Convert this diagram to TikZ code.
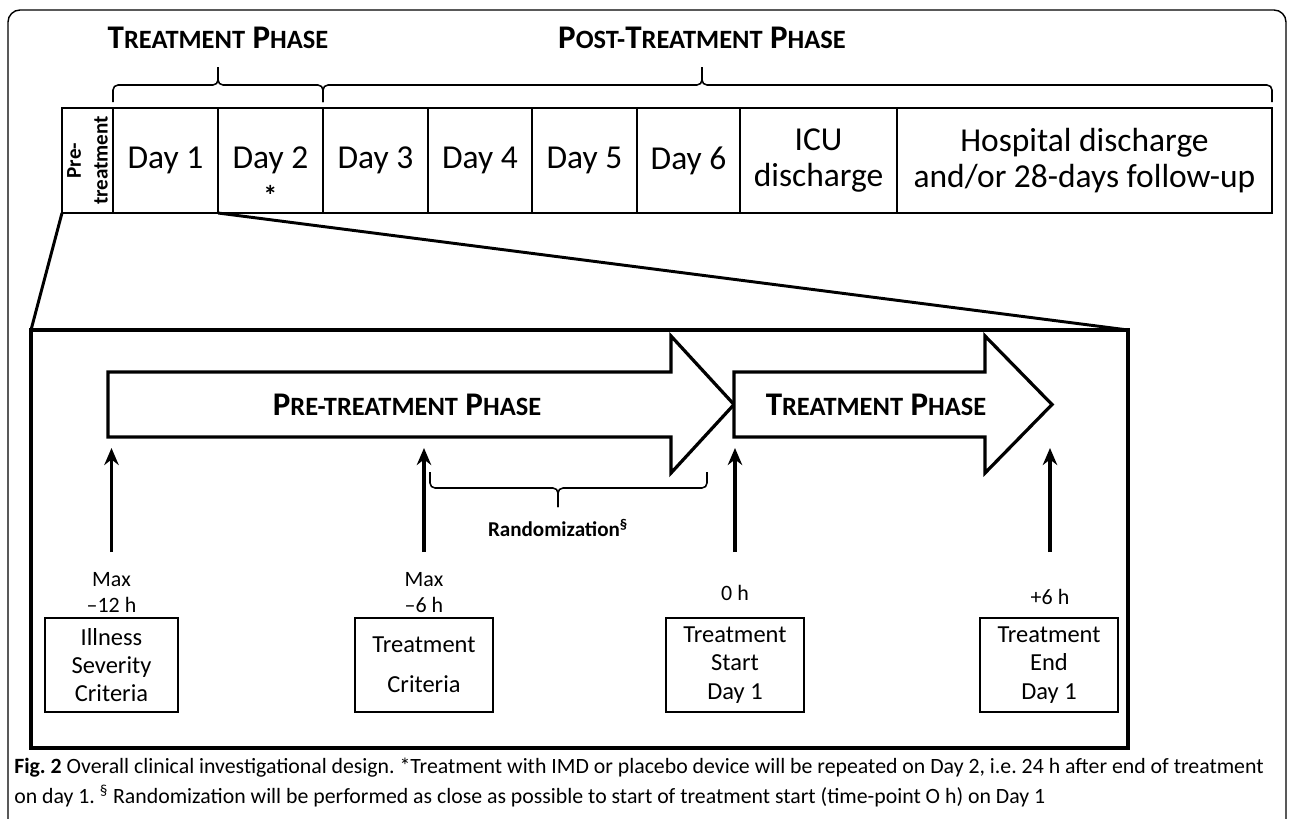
\documentclass[tikz,border=0pt]{standalone}
\usepackage{fontspec}
\setmainfont{Carlito}
\newfontfamily\capfont{Carlito}
\usetikzlibrary{positioning,arrows.meta}
\newlength{\pxl}
\setlength{\pxl}{0.025cm}
\newcommand{\phasecaps}[2]{#1{\fontsize{18.8}{20}\selectfont #2}}

\begin{document}
\begin{tikzpicture}[x=\pxl, y=\pxl, >={Stealth[length=4.25mm, width=3.6mm]},
    cell/.style={draw, line width=2.1pt, minimum height=105\pxl, outer sep=0pt,
      inner sep=0pt, align=center, font=\fontsize{23.8}{25.6}\selectfont},
    heading/.style={font=\bfseries\fontsize{23.5}{26}\selectfont},
    phase/.style={draw, line width=2.3pt, fill=white, line join=miter},
    timebox/.style={draw, line width=1.1pt, minimum height=94\pxl, inner sep=0pt,
      align=center, font=\fontsize{17.4}{20}\selectfont},
    timelabel/.style={align=center, font=\fontsize{15.6}{18.5}\selectfont},
    bracket/.style={line width=1.1pt, rounded corners=5\pxl},
    timearrow/.style={->, line width=2.6pt},
    caption/.style={anchor=base west, inner sep=0pt, font=\capfont\frenchspacing\fontsize{15.5}{18}\selectfont}]

  \useasboundingbox (0,0) rectangle (1290,-818);
  \draw[line width=1pt, rounded corners=12\pxl] (8,-840) -- (8,-10) -- (1286,-10) -- (1286,-840);

  % days of the study
  \node[cell, minimum width=51\pxl] (pre) at (87.5,-160.5) {};
  \node[rotate=90, align=center, font=\bfseries\fontsize{15}{19}\selectfont] at (pre) {Pre-\\treatment};
  \node[cell, minimum width=105\pxl, right=0pt of pre] (day1) {Day 1};
  \node[cell, minimum width=105\pxl, right=0pt of day1] (day2) {Day 2};
  \node[cell, minimum width=105\pxl, right=0pt of day2] (day3) {Day 3};
  \node[cell, minimum width=104\pxl, right=0pt of day3] (day4) {Day 4};
  \node[cell, minimum width=105\pxl, right=0pt of day4] (day5) {Day 5};
  \node[cell, minimum width=103\pxl, right=0pt of day5] (day6) {Day 6};
  \node[cell, minimum width=157\pxl, right=0pt of day6] (icu) {ICU\\discharge};
  \node[cell, minimum width=375\pxl, right=0pt of icu] (hosp) {Hospital discharge\\and/or 28-days follow-up};
  \node[font=\bfseries\fontsize{20}{20}\selectfont] (star) at ([yshift=18\pxl]day2.south) {*};

  % phases above the days
  \draw[bracket] (113,-102) |- (218,-85) -- (218,-67);
  \draw[bracket] (323,-102) |- (218,-85) -- (218,-67);
  \draw[bracket] (323,-102) |- (702,-85) -- (702,-67);
  \draw[bracket] (1272,-102) |- (702,-85) -- (702,-67);
  \node[heading] (treat) at (218,-38) {\phasecaps{T}{REATMENT} \phasecaps{P}{HASE}};
  \node[heading] (post) at (702,-38) {\phasecaps{P}{OST-}\phasecaps{T}{REATMENT} \phasecaps{P}{HASE}};

  % zoom on day 1
  \node[draw, line width=2.8pt, minimum width=1097\pxl, minimum height=418\pxl, outer sep=0pt] (zoom) at (579.5,-539) {};
  \draw[line width=2.1pt] (pre.south west) -- (zoom.north west);
  \draw[line width=2.1pt] (day1.south east) -- (zoom.north east);

  \draw[phase] (108,-372) -- (671,-372) -- (671,-336) -- (734,-404.5) -- (671,-473) -- (671,-437) -- (108,-437) -- cycle;
  \node[heading] (prephase) at (407,-404.5) {\phasecaps{P}{RE-TREATMENT} \phasecaps{P}{HASE}};
  \draw[phase] (734,-372) -- (985,-372) -- (985,-336) -- (1052,-404.5) -- (985,-473) -- (985,-437) -- (734,-437) -- cycle;
  \node[heading] (treatphase) at (876,-404.5) {\phasecaps{T}{REATMENT} \phasecaps{P}{HASE}};

  % time points
  \node[timebox, minimum width=133\pxl] (illness) at (111.5,-665) {Illness\\Severity\\Criteria};
  \node[timebox, minimum width=138\pxl] (crit) at (424,-665) {Treatment\\[12\pxl]Criteria};
  \node[timebox, minimum width=138\pxl] (start) at (735,-665) {Treatment\\Start\\Day 1};
  \node[timebox, minimum width=138\pxl] (end) at (1049,-665) {Treatment\\End\\Day 1};

  \node[timelabel, above=0pt of illness] (t12) {Max\\--12 h};
  \node[timelabel, above=0pt of crit] (t6) {Max\\--6 h};
  \node[timelabel] (t0) at (735,-593) {0 h};
  \node[timelabel] (tp6) at (1050,-597) {+6 h};

  \draw[timearrow] (t12 |- 0,-552) -- (t12 |- 0,-448);
  \draw[timearrow] (t6 |- 0,-552) -- (t6 |- 0,-448);
  \draw[timearrow] (t0 |- 0,-552) -- (t0 |- 0,-448);
  \draw[timearrow] (tp6 |- 0,-552) -- (tp6 |- 0,-448);

  \draw[bracket] (430,-472) |- (558,-488) -- (558,-507);
  \draw[bracket] (707,-472) |- (558,-488) -- (558,-507);
  \node[font=\bfseries\fontsize{15}{18}\selectfont] (rand) at (558,-528) {Randomization\textsuperscript{§}};

  % caption
  \node[caption] (cap1) at (14,-773)
    {\textbf{Fig. 2} Overall clinical investigational design. *Treatment with IMD or placebo device will be repeated on Day 2, i.e. 24 h after end of treatment};
  \node[caption] (cap2) at (14,-803)
    {on day 1. \textsuperscript{§} Randomization will be performed as close as possible to start of treatment start (time-point O h) on Day 1};
\end{tikzpicture}
\end{document}
